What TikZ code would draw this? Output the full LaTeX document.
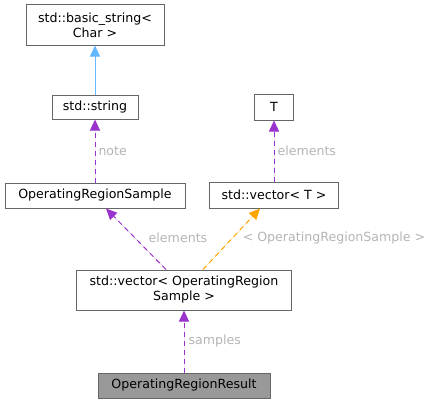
\documentclass[tikz,border=0pt]{standalone}
\usepackage{fontspec}
\setmainfont{DejaVu Sans}
\usetikzlibrary{arrows.meta}
\definecolor{boxborder}{HTML}{666666}
\definecolor{resfill}{HTML}{999999}
\definecolor{edgeblue}{HTML}{63B8FF}
\definecolor{edgepurple}{HTML}{9A32CD}
\definecolor{edgeorange}{HTML}{FFA500}
\definecolor{lblgray}{HTML}{B4B4B4}
\begin{document}
\begin{tikzpicture}[x=1pt,y=-1pt,
  every node/.style={font=\fontsize{12.6}{15}\selectfont},
  cls/.style={draw=boxborder,line width=1pt,fill=white,inner sep=0pt,align=center,text=black},
  lbl/.style={text=lblgray,inner sep=0pt},
  edgebase/.style={line width=1pt,dash pattern=on 5pt off 4pt,-{Triangle[length=11pt,width=10pt]}},
  inh/.style={line width=1pt,-{Triangle[length=11pt,width=10pt]},draw=edgeblue,fill=edgeblue},
  usep/.style={edgebase,draw=edgepurple,fill=edgepurple},
  tmpl/.style={edgebase,draw=edgeorange,fill=edgeorange}
]
\useasboundingbox (0,0) rectangle (435,404);
\node[cls,minimum width=138pt,minimum height=40pt] (bstr) at (95,25) {std::basic\_string<\\Char >};
\node[cls,minimum width=86pt,minimum height=24pt] (str) at (95,107) {std::string};
\node[cls,minimum width=180pt,minimum height=25pt] (ors) at (95,195.5) {OperatingRegionSample};
\node[cls,minimum width=39pt,minimum height=26pt] (T) at (274,107) {T};
\node[cls,minimum width=129pt,minimum height=26pt] (vect) at (274,195) {std::vector< T >};
\node[cls,minimum width=215pt,minimum height=40pt] (vecors) at (184,290) {std::vector< OperatingRegion\\Sample >};
\node[cls,fill=resfill,minimum width=172pt,minimum height=25pt] (res) at (184,385.5) {OperatingRegionResult};

\draw[inh] (str.north) -- (bstr.south);
\draw[usep] (ors.north) -- (str.south) node[lbl,pos=0.5,anchor=west,xshift=3pt] (lnote) {note};
\draw[usep] (vect.north) -- (T.south) node[lbl,pos=0.5,anchor=west,xshift=3pt] (lel1) {elements};
\draw[usep] ([xshift=-18pt]vecors.north) -- ([xshift=11pt]ors.south);
\draw[tmpl] ([xshift=19pt]vecors.north) -- ([xshift=-14pt]vect.south);
\draw[usep] (res.north) -- (vecors.south) node[lbl,pos=0.5,anchor=west,xshift=4pt] (lsamp) {samples};
\node[lbl] (lel2) at (178,238) {elements};
\node[lbl] (ltmpl) at (334,238) {< OperatingRegionSample >};
\end{tikzpicture}
\end{document}
